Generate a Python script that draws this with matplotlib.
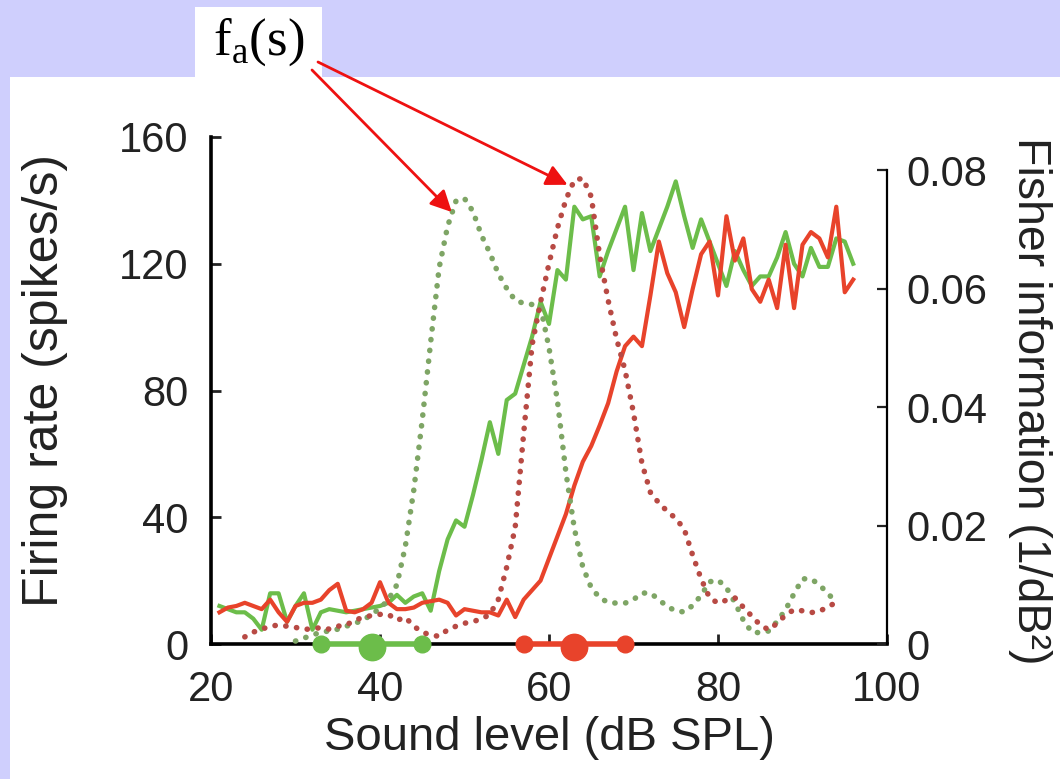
import matplotlib
matplotlib.use("Agg")
import matplotlib.pyplot as plt
from matplotlib.patches import Rectangle

plt.rcParams['font.family'] = ['Liberation Sans', 'DejaVu Sans']

# firing rate curves (spikes/s), 1 dB steps
level = list(range(21, 97))
rate_green = [12, 11, 10, 10, 8, 4.5, 16, 16, 7, 12, 16, 4.5, 10, 11, 10.5, 10,
              10.5, 11, 11.5, 12, 13, 15.5, 13, 15, 16, 10.5, 23, 33, 39, 37, 47,
              58, 70, 60, 77, 79, 88, 97, 108, 101, 118, 115, 138, 134, 135, 116,
              124, 131, 138, 118, 136, 124, 131, 138, 146, 135, 125, 134, 127,
              120, 113, 124, 118, 113, 116, 116, 122, 130, 120, 116, 125, 119,
              119, 128, 127, 120]
rate_red = [10, 11.5, 12, 13, 12, 11, 14, 10, 7, 12, 13, 13, 14, 17, 19, 10.5, 10,
            11, 13, 19.5, 13, 11, 11, 11.5, 13, 13.5, 14, 13, 9, 11, 10.5, 10, 10,
            9, 14, 8.5, 14, 17, 20, 27, 34, 41, 50, 57.5, 62.5, 69, 76, 86, 94,
            97, 94, 110, 127, 117, 111, 100, 112, 123, 127, 110, 135, 121, 128,
            112, 108, 115, 106, 126, 106, 126, 130, 128, 122, 138, 111, 115]

# Fisher information (1/dB^2)
fi_level_green = list(range(30, 95))
fi_green = [0.5, 1, 1.5, 2, 2.2, 2.5, 3, 3.5, 4, 5, 6, 7.5, 10, 16.5, 26, 37.8,
            51, 63.5, 70.5, 74.8, 75.2, 73, 69, 66, 62.5, 60, 58, 57.5, 57.3,
            56.9, 50, 41, 29, 19.5, 13, 9.5, 7.8, 7, 6.9, 6.9, 7.5, 8.6, 8.6,
            7.5, 6.3, 5.6, 5.4, 6.5, 8.2, 10.5, 10.8, 9.5, 7, 4, 2, 1.9, 2.2,
            3.8, 5.8, 8.5, 11, 11, 10, 8.5, 7.1]
fi_level_red = list(range(24, 95))
fi_red = [1.2, 2, 2.5, 3, 3.2, 3, 2.8, 2.5, 2.5, 2.8, 2.5, 3, 3.2, 4, 4.5, 4.8,
          5, 5, 4, 4.5, 3, 2, 1.5, 1.3, 2.4, 3, 3.5, 3.8, 4.2, 5, 7.5, 13, 19.7,
          35.5, 50.5, 57.7, 64.2, 70.2, 75, 78.3, 78.6, 75.5, 65.5, 58, 51.5,
          46.2, 39, 30.5, 25.6, 23.8, 22.4, 21.2, 19.4, 15, 11, 7.8, 6.9, 7.4,
          7.8, 6.2, 4.7, 3.2, 2.4, 3.5, 4.9, 5.8, 5.6, 5.3, 5.5, 6.3, 7]
fi_green = [v / 1000 for v in fi_green]
fi_red = [v / 1000 for v in fi_red]

# discrimination markers on the axis
marks_green = [33, 39, 45]
marks_red = [57, 63, 69]

GREEN = '#6cbd4a'
RED = '#e8432b'
GREEN_DOT = '#7ea565'
RED_DOT = '#b84a44'

W, H = 1060, 779
fig = plt.figure(figsize=(W / 100, H / 100), dpi=100, facecolor='#cfcffd')
fig.patches.append(Rectangle((10 / W, 0), 1, (H - 77) / H, transform=fig.transFigure,
                             facecolor='white', edgecolor='none', zorder=-2))
fig.patches.append(Rectangle((195 / W, 1 - 77 / H), 127 / W, 70 / H,
                             transform=fig.transFigure, facecolor='white',
                             edgecolor='none', zorder=-2))

ax = fig.add_axes([211 / W, 1 - 644 / H, 676 / W, 507 / H])
ax.patch.set_alpha(0)
ax2 = ax.twinx()

ax.plot(level, rate_green, color=GREEN, lw=3, zorder=3)
ax.plot(level, rate_red, color=RED, lw=3, zorder=3)

dots = dict(lw=4, linestyle=(0, (0.05, 1.9)), dash_capstyle='round')
ax2.plot(fi_level_green, fi_green, color=GREEN_DOT, **dots)
ax2.plot(fi_level_red, fi_red, color=RED_DOT, **dots)

for xs, c in [(marks_green, GREEN), (marks_red, RED)]:
    ax.plot([xs[0], xs[-1]], [0, 0], color=c, lw=4, clip_on=False, zorder=6)
    ax.plot([xs[0], xs[-1]], [0, 0], 'o', color=c, ms=12, clip_on=False, zorder=6)
    ax.plot([xs[1]], [-0.8], 'o', color=c, ms=19, clip_on=False, zorder=6)

ax.set_xlim(20, 100)
ax.set_ylim(0, 160)
ax.set_xticks([20, 40, 60, 80, 100])
ax.set_yticks([0, 40, 80, 120, 160])
ax2.set_ylim(0, 0.08 * 507 / 474)
ax2.set_yticks([0, 0.02, 0.04, 0.06, 0.08])
ax2.set_yticklabels(['0', '0.02', '0.04', '0.06', '0.08'])

for a in (ax, ax2):
    a.spines['top'].set_visible(False)
ax.spines['left'].set_linewidth(2.6)
ax.spines['bottom'].set_linewidth(2.6)
ax.spines['right'].set_visible(False)
ax2.spines['left'].set_visible(False)
ax2.spines['bottom'].set_visible(False)
ax2.spines['right'].set_linewidth(1.6)
ax2.spines['right'].set_bounds(0, 0.08)

ax.tick_params(axis='both', direction='in', length=7, width=2, labelsize=30,
               colors='#222222')
ax.tick_params(axis='x', pad=19)
ax.tick_params(axis='y', pad=16)
ax2.tick_params(axis='y', direction='in', length=7, width=1.6, labelsize=30,
                pad=14, colors='#222222')

ax.set_xlabel('Sound level (dB SPL)', fontsize=34, color='#222222')
ax.xaxis.set_label_coords(0.5, -0.185)
ax.xaxis.label.set_va('center')
ax.set_ylabel('Firing rate (spikes/s)', fontsize=36, color='#222222')
ax.yaxis.set_label_coords(-0.245, 0.52)
ax.yaxis.label.set_va('center')
ax2.set_ylabel('Fisher information (1/dB²)', fontsize=33.5, rotation=270,
               color='#222222')
ax2.yaxis.set_label_coords(1.212, 0.48)
ax2.yaxis.label.set_va('center')
ax2.yaxis.label.set_ha('center')

fig.text(259 / W, 1 - 42 / H, 'f$_\\mathregular{a}$(s)', family='Liberation Serif',
         fontsize=38, ha='center', va='center')

arrow = dict(arrowstyle='-|>', color='#ee1111', lw=2, mutation_scale=32,
             shrinkA=0, shrinkB=0)
ax2.annotate('', xy=(48.5, 0.0729), xytext=(312 / W, 1 - 70 / H),
             textcoords='figure fraction', arrowprops=arrow)
ax2.annotate('', xy=(62.2, 0.0775), xytext=(318 / W, 1 - 62 / H),
             textcoords='figure fraction', arrowprops=arrow)

fig.savefig('out.png', dpi=100, facecolor=fig.get_facecolor())
